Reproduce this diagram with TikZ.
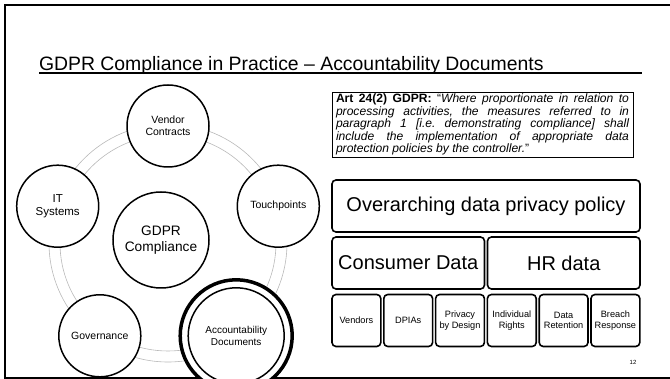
\documentclass[tikz,border=0pt]{standalone}
\usepackage{fontspec}
\setmainfont{Liberation Sans}
\frenchspacing
\begin{document}
\begin{tikzpicture}[x=1pt,y=-1pt,
  every node/.style={inner sep=0pt, outer sep=0pt},
  satellite/.style={circle, draw, fill=white, line width=1.5pt, minimum size=82pt,
    align=center, font=\fontsize{10.5}{12}\selectfont},
  hub/.style={satellite, minimum size=96pt, font=\fontsize{13.7}{15.5}\selectfont},
  halo/.style={circle, draw, fill=white, line width=3.5pt, minimum size=112pt},
  guide/.style={draw=black!28, line width=0.6pt},
  tier/.style={draw, line width=1.6pt, rounded corners=4pt, fill=white, align=center,
    minimum height=52pt, font=\fontsize{20}{22}\selectfont},
  leaf/.style={tier, minimum width=48.8pt, font=\fontsize{9.2}{10.5}\selectfont},
  quotebox/.style={draw, line width=0.9pt, text width=293pt, inner xsep=4pt,
    minimum height=65pt, align=justify, font=\fontsize{12.1}{12.4}\selectfont},
  frameline/.style={line width=2pt}
]
\useasboundingbox (0,0) rectangle (670,379);
\clip (0,0) rectangle (670,379);

% slide frame
\draw[frameline] (670,5) -- (5,5) -- (5,378) -- (670,378);

% title with rule underneath
\node[anchor=base west, font=\fontsize{19.4}{22}\selectfont] (title) at (39,71)
  {GDPR Compliance in Practice – Accountability Documents};
\coordinate (ruleend) at (642,73);
\draw[line width=1.1pt] (title.west |- ruleend) -- (ruleend);

% double guide ring behind the cycle
\coordinate (ringc) at (168,243);
\draw[guide] (ringc) circle[radius=108pt];
\draw[guide] (ringc) circle[radius=119pt];

% cycle of topics
\node[hub] (hub) at (161,240) {GDPR\\Compliance};
\node[satellite] (vendor) at (168,126) {Vendor\\Contracts};
\node[satellite] (touch) at (278.3,206.2) {Touchpoints};
\node[satellite, font=\fontsize{11.5}{12.5}\selectfont] (it) at (57.7,206.2) {IT\\Systems};
\node[satellite] (gov) at (99.8,335.8) {Governance};
\node[halo] (accring) at (236.2,335.8) {};
\node[satellite, minimum size=96pt, font=\fontsize{10}{11.5}\selectfont] (acc) at (accring)
  {Accountability\\Documents};

% article quote
\node[quotebox] (quote) at (482.5,124.5)
  {{\bfseries Art 24(2) GDPR:} “\textit{Where proportionate in relation to\linebreak
   processing activities, the measures referred to in\linebreak
   paragraph 1 [i.e. demonstrating compliance] shall\linebreak
   include the implementation of appropriate data\linebreak
   protection policies by the controller.}”};

% policy hierarchy
\node[tier, minimum width=308pt] (overall) at (486,206) {Overarching data privacy policy};
\node[tier, minimum width=152.5pt] (consumer) at (408.25,263) {Consumer Data};
\node[tier, minimum width=152.5pt] (hr) at (563.75,263) {HR data};
\node[leaf] (vendors) at (356.4,320.5) {Vendors};
\node[leaf] (dpias) at (408.2,320.5) {DPIAs};
\node[leaf] (pbd) at (460,320.5) {Privacy\\by Design};
\node[leaf] (rights) at (511.8,320.5) {Individual\\Rights};
\node[leaf] (retention) at (563.6,320.5) {Data\\Retention};
\node[leaf] (breach) at (615.4,320.5) {Breach\\Response};

% page number
\node[font=\fontsize{6}{7}\selectfont] (pageno) at (633,362) {12};
\end{tikzpicture}
\end{document}
